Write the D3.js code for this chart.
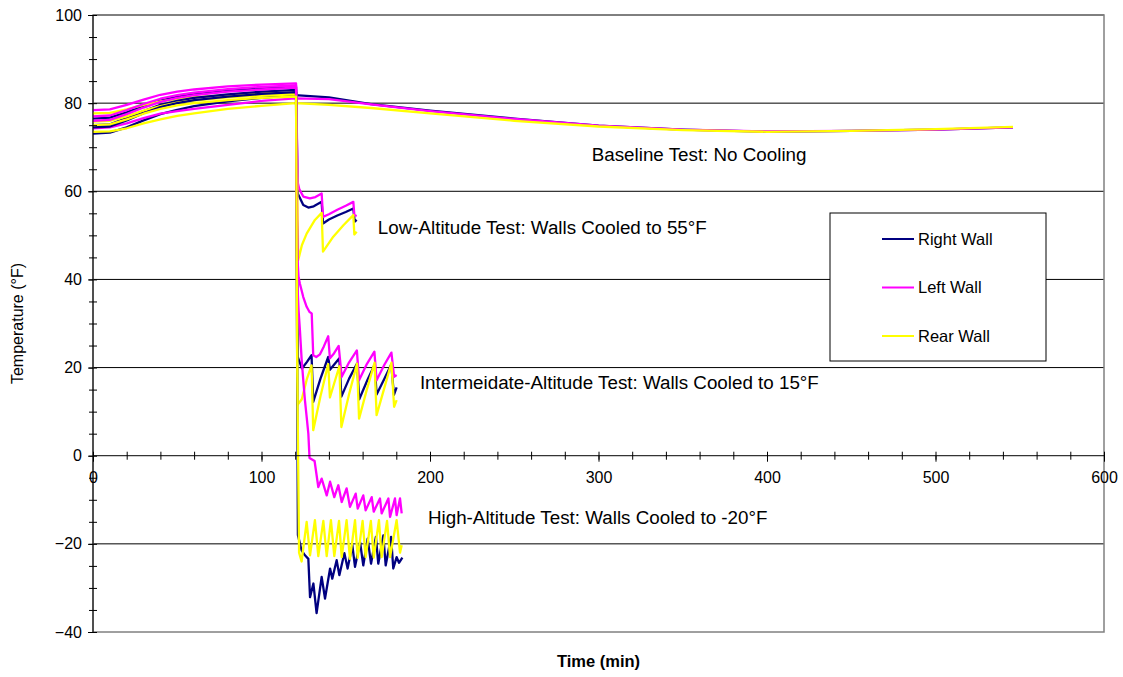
<!DOCTYPE html>
<html>
<head>
<meta charset="utf-8">
<script src="https://cdn.jsdelivr.net/npm/d3@7"></script>
<style>
  body { margin: 0; background: #fff; }
  svg { font-family: "Liberation Sans", Arial, sans-serif; }
</style>
</head>
<body>
<div id="chart"></div>
<script>
// time (min), temperature (F) pairs
const baseRight = [[0,73.1],[10,73.3],[20,74.5],[30,76.1],[40,77.5],[50,78.5],[60,79.3],[80,80.4],[100,81.2],[120,81.8],
  [140,81.3],[165,79.8],[200,78.3],[250,76.5],[300,74.9],[350,74.0],[400,73.5],[450,73.7],[500,74.0],[546,74.5]];
const baseLeft = [[0,74.3],[10,74.5],[20,75.4],[30,76.6],[40,77.6],[50,78.2],[60,78.7],[80,79.6],[100,80.5],[120,81.1],
  [140,80.9],[165,79.7],[200,78.2],[250,76.4],[300,74.9],[350,74.0],[400,73.6],[450,73.7],[500,74.0],[546,74.5]];
const baseRear = [[0,73.5],[10,73.6],[20,74.3],[30,75.4],[40,76.3],[50,77.1],[60,77.7],[80,78.7],[100,79.4],[120,80.0],
  [140,79.6],[165,78.9],[200,77.7],[250,76.0],[300,74.7],[350,73.9],[400,73.5],[450,73.7],[500,74.1],[546,74.6]];

const lowRight = [[0,76.5],[10,76.7],[20,77.9],[30,79.4],[40,80.6],[50,81.5],[60,82.0],[80,82.8],[100,83.3],[120.5,83.7],
  [121.5,59.5],[124.8,56.9],[127.8,56.3],[131,56.6],[135.7,57.6],[136.5,52.7],[140,53.6],[145,54.5],[150,55.3],[154.5,56.1],[155.3,53.1],[156.5,53.5]];
const lowLeft = [[0,78.4],[10,78.6],[20,79.6],[30,80.8],[40,81.9],[50,82.6],[60,83.1],[80,83.8],[100,84.2],[120.5,84.5],
  [121.5,62.0],[122.4,60.5],[124.8,58.8],[128.7,58.4],[132,58.7],[135.7,59.5],[136.5,54.2],[140,54.8],[145,55.8],[150,56.7],[154.5,57.6],[155.1,54.6],[156.5,54.4]];
const lowRear = [[0,77.7],[10,77.8],[20,78.6],[30,79.6],[40,80.4],[50,80.9],[60,81.3],[80,81.8],[100,82.2],[120.5,82.4],
  [121.8,44.4],[124,47.8],[126.8,50.4],[131.7,53.5],[135.7,55.1],[136.5,46.3],[142.6,49.7],[148.6,52.3],[154.5,54.6],[155.1,50.2],[156.5,50.8]];

const intRight = [[0,75.0],[10,75.2],[20,76.6],[30,78.2],[40,79.6],[50,80.5],[60,81.2],[80,82.0],[100,82.6],[120.5,83.0],
  [121.5,22.4],[124,19.8],[127,21.3],[129.7,22.8],[130.7,12.2],[135,17.5],[139.6,22.4],[140.6,19.5],[146.2,22.1],[147.4,13.4],
  [152,17.5],[156.7,20.9],[158,12.8],[163,17.3],[167.2,20.7],[168.3,13.9],[173,17.5],[177,20.7],[178.6,13.8],[180.2,15.5]];
const intLeft = [[0,77.0],[10,77.2],[20,78.4],[30,79.8],[40,81.0],[50,81.8],[60,82.4],[80,83.2],[100,83.7],[120.5,84.0],
  [121.3,45],[122,40.5],[122.8,39.0],[124.8,36.0],[126.8,33.8],[128.5,32.6],[129.8,32.3],[130.7,22.8],[132.5,22.4],[134.7,23.0],
  [137,24.8],[139.6,27.1],[140.6,22.1],[143,23.2],[145.8,24.9],[147.6,17.9],[152,21.2],[156.6,23.9],[157.9,17.1],[162.5,20.8],
  [167,23.6],[168.3,17.1],[173,20.7],[177.1,23.4],[178.7,17.9],[180.2,18.3]];
const intRear = [[0,75.8],[10,76.0],[20,77.0],[30,78.3],[40,79.3],[50,80.1],[60,80.6],[80,81.3],[100,81.7],[120.5,82.0],
  [121.3,11.5],[123.9,12.8],[127,17.5],[129.7,20.5],[130.7,5.8],[135,13.5],[139.6,20.8],[140.6,13.2],[146.2,20.3],[147.4,6.5],
  [152,14.0],[156.7,20.9],[157.9,8.4],[162.5,15],[167.1,21.1],[168.3,9.2],[173,15.5],[177.1,21.1],[178.7,11.1],[180.2,12.6]];

const highRight = [[0,74.5],[10,74.7],[20,76.1],[30,77.7],[40,79.1],[50,80.0],[60,80.7],[80,81.5],[100,82.1],[120.5,82.5],
  [121.6,-18],[123.8,-21.5],[125.8,-22.6],[127.8,-23.4],[128.8,-32.1],[130.8,-29.0],[132.7,-35.7],[135.7,-27.5],[137.7,-32.4],
  [140.7,-25.6],[142.0,-27.9],[144.6,-23.7],[146.2,-27.1],[149.2,-22.1],[151.1,-25.6],[153.9,-20.3],[155.5,-25.2],[158.5,-19.6],
  [160.4,-24.9],[163.0,-18.8],[165.0,-24.5],[167.9,-18.4],[169.3,-24.5],[172.3,-18.1],[173.7,-24.9],[176.9,-18.4],[178.2,-25.6],
  [180.2,-23],[181.6,-24.3],[183.6,-23.1]];
const highLeft = [[0,76.0],[10,76.2],[20,77.5],[30,79.0],[40,80.3],[50,81.2],[60,81.8],[80,82.6],[100,83.1],[120.5,83.5],
  [121.2,40],[122,33],[122.8,28.5],[123.8,22],[124.8,17.1],[125.8,12.5],[126.8,8.8],[127.8,5.0],[128.5,-0.5],[131.5,-1.2],
  [133.7,-7.1],[135.7,-5.2],[138.7,-9.0],[140.7,-5.9],[143.2,-9.4],[145.6,-6.7],[147.6,-10.5],[150.5,-7.4],[152.5,-11.6],
  [155.9,-8.6],[157.1,-12.0],[160.4,-9.0],[161.8,-12.4],[165.4,-9.4],[166.6,-12.7],[170.3,-9.7],[171.3,-13.1],[175.3,-9.7],
  [176.3,-13.9],[179.2,-9.7],[180.2,-13.5],[182.2,-9.7],[183.2,-13.1]];
const highRear = [[0,75.0],[10,75.2],[20,76.3],[30,77.6],[40,78.7],[50,79.5],[60,80.0],[80,80.7],[100,81.2],[120.5,81.5],
  [121.2,20],[122.3,-22],[123.8,-24.0],[126.8,-15.0],[128.8,-22.6],[131.7,-14.6],[133.7,-22.8],[136.7,-14.8],[138.7,-22.8],
  [141.2,-14.6],[143.2,-22.8],[146.0,-14.8],[147.6,-23.0],[150.5,-14.6],[152.5,-23.4],[155.5,-14.6],[157.1,-23.2],[160.0,-14.8],
  [161.8,-23.0],[164.9,-14.8],[166.6,-23.1],[169.7,-14.6],[171.3,-23.0],[174.5,-14.8],[176.3,-23.0],[180.2,-14.6],[182.2,-22.0],[183.2,-20.3]];

const walls = ['Right Wall', 'Left Wall', 'Rear Wall'];
const wallColors = ['#000080', '#ff00ff', '#ffff00'];
const xTicks = [0, 100, 200, 300, 400, 500, 600];
const xMinor = d3.range(0, 601, 20);
const yTicks = [-40, -20, 0, 20, 40, 60, 80, 100];
const yMinor = d3.range(-40, 101, 5);
const notes = [
  { text: 'Baseline Test: No Cooling', t: 296, v: 68.3 },
  { text: 'Low-Altitude Test: Walls Cooled to 55\u00b0F', t: 169, v: 51.9 },
  { text: 'Intermeidate-Altitude Test: Walls Cooled to 15\u00b0F', t: 194, v: 16.7 },
  { text: 'High-Altitude Test: Walls Cooled to -20\u00b0F', t: 198.8, v: -13.9 }
];

const width = 1123, height = 677;
const plot = { left: 93, right: 1104, top: 15, bottom: 632 };

const svg = d3.select('#chart').append('svg')
  .attr('width', width)
  .attr('height', height);

const x = d3.scaleLinear().domain([0, 600]).range([plot.left, plot.right]);
const y = d3.scaleLinear().domain([-40, 100]).range([plot.bottom, plot.top]);

// gridlines
svg.append('g')
  .selectAll('line')
  .data(yTicks.filter(d => d !== 0 && d !== -40))
  .enter().append('line')
  .attr('x1', plot.left).attr('x2', plot.right)
  .attr('y1', d => y(d)).attr('y2', d => y(d))
  .attr('stroke', '#000').attr('stroke-width', 1);

// plot border
svg.append('rect')
  .attr('x', plot.left).attr('y', plot.top)
  .attr('width', plot.right - plot.left).attr('height', plot.bottom - plot.top)
  .attr('fill', 'none').attr('stroke', '#808080').attr('stroke-width', 1.5);

// series, drawn test by test
const line = d3.line().x(d => x(d[0])).y(d => y(d[1]));
const tests = [
  [baseRight, baseLeft, baseRear],
  [lowRight, lowLeft, lowRear],
  [intRight, intLeft, intRear],
  [highRight, highLeft, highRear]
];
const series = svg.append('g');
tests.forEach(test => {
  test.forEach((data, i) => {
    series.append('path')
      .datum(data)
      .attr('fill', 'none')
      .attr('stroke', wallColors[i])
      .attr('stroke-width', 2.3)
      .attr('stroke-linejoin', 'round')
      .attr('d', line);
  });
});

// x axis along 0
const xAxisG = svg.append('g').attr('transform', `translate(0,${y(0)})`);
xAxisG.append('line')
  .attr('x1', plot.left).attr('x2', plot.right)
  .attr('stroke', '#000');
xAxisG.append('g')
  .attr('transform', 'translate(0,-4)')
  .call(d3.axisBottom(x).tickValues(xMinor).tickSize(8).tickFormat(''))
  .call(g => g.select('.domain').remove());
xAxisG.append('g')
  .call(d3.axisBottom(x).tickValues(xTicks).tickSize(6).tickPadding(10).tickFormat(d3.format('d')))
  .call(g => g.select('.domain').remove())
  .call(g => g.selectAll('text').attr('font-size', 16).attr('fill', '#000')
    .attr('font-family', '"Liberation Sans", Arial, sans-serif'));

// y axis
const yAxisG = svg.append('g').attr('transform', `translate(${plot.left},0)`);
yAxisG.append('g')
  .attr('transform', 'translate(4,0)')
  .call(d3.axisLeft(y).tickValues(yMinor).tickSize(8).tickFormat(''))
  .call(g => g.select('.domain').remove());
yAxisG.append('g')
  .call(d3.axisLeft(y).tickValues(yTicks).tickSize(5).tickPadding(6).tickFormat(d3.format('d')))
  .call(g => g.select('.domain').remove())
  .call(g => g.selectAll('text').attr('font-size', 16).attr('fill', '#000')
    .attr('font-family', '"Liberation Sans", Arial, sans-serif'));
yAxisG.append('line')
  .attr('y1', plot.top).attr('y2', plot.bottom)
  .attr('stroke', '#000');

// axis titles
svg.append('text')
  .attr('transform', `translate(23,${(plot.top + plot.bottom) / 2}) rotate(-90)`)
  .attr('text-anchor', 'middle')
  .attr('font-size', 16)
  .text('Temperature (\u00b0F)');
svg.append('text')
  .attr('x', (plot.left + plot.right) / 2)
  .attr('y', 667)
  .attr('text-anchor', 'middle')
  .attr('font-size', 16.5)
  .attr('font-weight', 'bold')
  .text('Time (min)');

// test labels
svg.append('g')
  .selectAll('text')
  .data(notes)
  .enter().append('text')
  .attr('x', d => x(d.t))
  .attr('y', d => y(d.v))
  .attr('dy', '0.35em')
  .attr('font-size', 18.8)
  .attr('fill', '#000')
  .text(d => d.text);

// legend
const legend = svg.append('g').attr('transform', 'translate(830,213)');
legend.append('rect')
  .attr('width', 216).attr('height', 148)
  .attr('fill', '#fff').attr('stroke', '#000').attr('stroke-width', 1);
walls.forEach((w, i) => {
  const ly = 26 + i * 48.5;
  legend.append('line')
    .attr('x1', 52).attr('x2', 84)
    .attr('y1', ly).attr('y2', ly)
    .attr('stroke', wallColors[i]).attr('stroke-width', 2);
  legend.append('text')
    .attr('x', 88).attr('y', ly)
    .attr('dy', '0.35em')
    .attr('font-size', 16.5)
    .text(w);
});
</script>
</body>
</html>
